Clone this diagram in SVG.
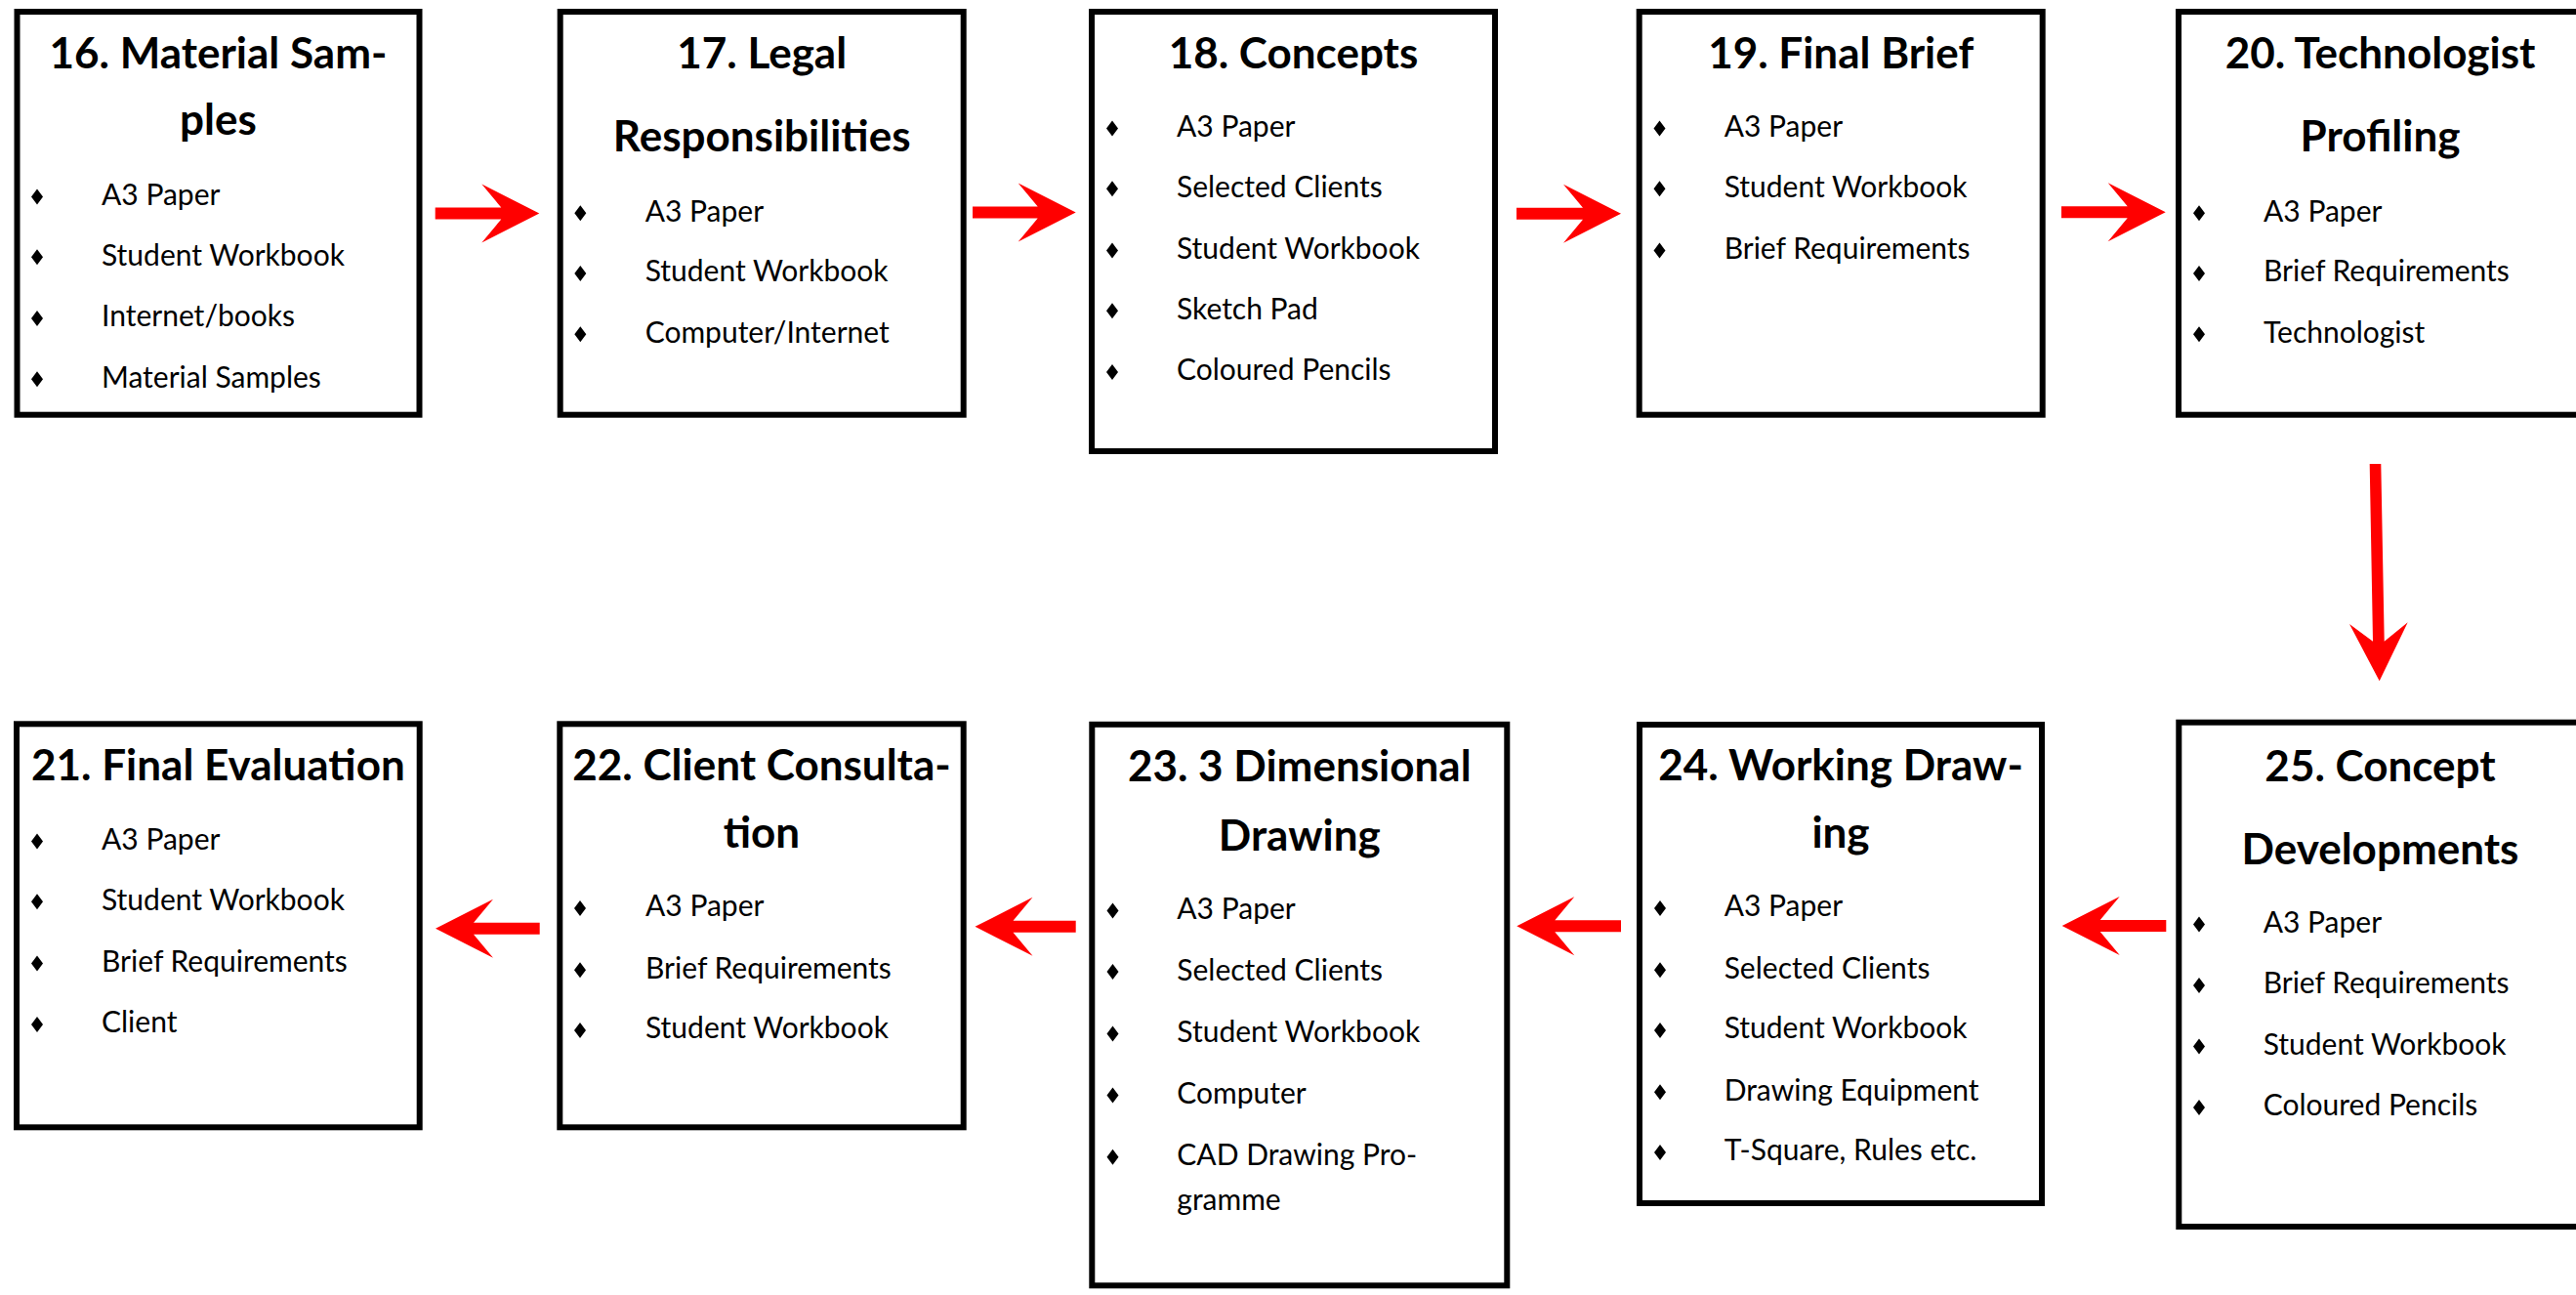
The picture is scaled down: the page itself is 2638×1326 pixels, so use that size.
<svg xmlns="http://www.w3.org/2000/svg" xmlns:xlink="http://www.w3.org/1999/xlink" width="2638" height="1326" viewBox="0 0 2638 1326">
<style>
.box{fill:#fff;stroke:#000;stroke-width:6}
.t{font-family:Lato,"Liberation Sans",sans-serif;font-weight:700;font-size:44px;text-anchor:middle;fill:#000}
.b{font-family:Lato,"Liberation Sans",sans-serif;font-size:30px;fill:#000}
.arr{fill:#f00}
</style>
<defs>
<path id="dia" d="M0,-8 L6,0 L0,8 L-6,0 Z" fill="#000"/>
</defs>
<rect width="2638" height="1326" fill="#fff"/>
<g id="connectors">
<polygon class="arr" points="445.7,212.5 513.3,212.5 493.3,188.5 552.3,218.5 493.3,248.5 513.3,224.5 445.7,224.5"/>
<polygon class="arr" points="996,211.5 1062.7,211.5 1042.7,187.5 1101.7,217.5 1042.7,247.5 1062.7,223.5 996,223.5"/>
<polygon class="arr" points="1553,212.8 1621,212.8 1601,188.8 1660,218.8 1601,248.8 1621,224.8 1553,224.8"/>
<polygon class="arr" points="2111,211.3 2178.7,211.3 2158.7,187.3 2217.7,217.3 2158.7,247.3 2178.7,223.3 2111,223.3"/>
<polygon class="arr" points="2426.7,475 2438.3,475 2441.7,656.7 2465.7,637.3 2436.7,697.3 2406,639 2430,656.7"/>
<polygon class="arr" points="2111.7,948 2170.7,918 2150.7,942 2218.3,942 2218.3,954 2150.7,954 2170.7,978"/>
<polygon class="arr" points="1553.3,948.2 1612.3,918.2 1592.3,942.2 1660,942.2 1660,954.2 1592.3,954.2 1612.3,978.2"/>
<polygon class="arr" points="998.5,948.8 1057.5,918.8 1037.5,942.8 1101.7,942.8 1101.7,954.8 1037.5,954.8 1057.5,978.8"/>
<polygon class="arr" points="446,950.8 505,920.8 485,944.8 552.7,944.8 552.7,956.8 485,956.8 505,980.8"/>
</g>
<g id="n16">
<rect class="box" x="17.5" y="12" width="412" height="412.7"/>
<text class="t" x="223.5" y="70">16. Material Sam-</text>
<text class="t" x="223.5" y="137.5">ples</text>
<use xlink:href="#dia" x="38" y="201.6"/><text class="b" x="104" y="210">A3 Paper</text>
<use xlink:href="#dia" x="38" y="263.3"/><text class="b" x="104" y="271.7">Student Workbook</text>
<use xlink:href="#dia" x="38" y="325.9"/><text class="b" x="104" y="334.3">Internet/books</text>
<use xlink:href="#dia" x="38" y="388.3"/><text class="b" x="104" y="396.7">Material Samples</text>
</g>
<g id="n17">
<rect class="box" x="573.7" y="12" width="413" height="412.7"/>
<text class="t" x="780.2" y="70">17. Legal</text>
<text class="t" x="780.2" y="155">Responsibilities</text>
<use xlink:href="#dia" x="594.3" y="218.3"/><text class="b" x="660.7" y="226.7">A3 Paper</text>
<use xlink:href="#dia" x="594.3" y="279.9"/><text class="b" x="660.7" y="288.3">Student Workbook</text>
<use xlink:href="#dia" x="594.3" y="342.3"/><text class="b" x="660.7" y="350.7">Computer/Internet</text>
</g>
<g id="n18">
<rect class="box" x="1118" y="12" width="413" height="450"/>
<text class="t" x="1324.5" y="70">18. Concepts</text>
<use xlink:href="#dia" x="1139" y="131.6"/><text class="b" x="1205" y="140">A3 Paper</text>
<use xlink:href="#dia" x="1139" y="193.3"/><text class="b" x="1205" y="201.7">Selected Clients</text>
<use xlink:href="#dia" x="1139" y="256.6"/><text class="b" x="1205" y="265">Student Workbook</text>
<use xlink:href="#dia" x="1139" y="318.3"/><text class="b" x="1205" y="326.7">Sketch Pad</text>
<use xlink:href="#dia" x="1139" y="380.9"/><text class="b" x="1205" y="389.3">Coloured Pencils</text>
</g>
<g id="n19">
<rect class="box" x="1678.7" y="12" width="413" height="412.7"/>
<text class="t" x="1885.2" y="70">19. Final Brief</text>
<use xlink:href="#dia" x="1699.5" y="131.6"/><text class="b" x="1765.7" y="140">A3 Paper</text>
<use xlink:href="#dia" x="1699.5" y="193.3"/><text class="b" x="1765.7" y="201.7">Student Workbook</text>
<use xlink:href="#dia" x="1699.5" y="256.6"/><text class="b" x="1765.7" y="265">Brief Requirements</text>
</g>
<g id="n20">
<rect class="box" x="2231" y="12" width="413" height="412.7"/>
<text class="t" x="2437.5" y="70">20. Technologist</text>
<text class="t" x="2437.5" y="155">Profiling</text>
<use xlink:href="#dia" x="2252" y="218.3"/><text class="b" x="2318" y="226.7">A3 Paper</text>
<use xlink:href="#dia" x="2252" y="279.9"/><text class="b" x="2318" y="288.3">Brief Requirements</text>
<use xlink:href="#dia" x="2252" y="342.3"/><text class="b" x="2318" y="350.7">Technologist</text>
</g>
<g id="n21">
<rect class="box" x="17" y="741.3" width="412.7" height="413"/>
<text class="t" x="223.4" y="799.3">21. Final Evaluation</text>
<use xlink:href="#dia" x="38" y="861.6"/><text class="b" x="104" y="870">A3 Paper</text>
<use xlink:href="#dia" x="38" y="923.3"/><text class="b" x="104" y="931.7">Student Workbook</text>
<use xlink:href="#dia" x="38" y="986.6"/><text class="b" x="104" y="995">Brief Requirements</text>
<use xlink:href="#dia" x="38" y="1048.9"/><text class="b" x="104" y="1057.3">Client</text>
</g>
<g id="n22">
<rect class="box" x="573.3" y="741.3" width="413.4" height="413"/>
<text class="t" x="780" y="799.3">22. Client Consulta-</text>
<text class="t" x="780" y="868.3">tion</text>
<use xlink:href="#dia" x="594" y="929.9"/><text class="b" x="661" y="938.3">A3 Paper</text>
<use xlink:href="#dia" x="594" y="993.3"/><text class="b" x="661" y="1001.7">Brief Requirements</text>
<use xlink:href="#dia" x="594" y="1054.9"/><text class="b" x="661" y="1063.3">Student Workbook</text>
</g>
<g id="n23">
<rect class="box" x="1118.3" y="741.8" width="425" height="574.5"/>
<text class="t" x="1330.8" y="800">23. 3 Dimensional</text>
<text class="t" x="1330.8" y="871">Drawing</text>
<use xlink:href="#dia" x="1139.5" y="932.4"/><text class="b" x="1205.3" y="940.8">A3 Paper</text>
<use xlink:href="#dia" x="1139.5" y="995.1"/><text class="b" x="1205.3" y="1003.5">Selected Clients</text>
<use xlink:href="#dia" x="1139.5" y="1058.4"/><text class="b" x="1205.3" y="1066.8">Student Workbook</text>
<use xlink:href="#dia" x="1139.5" y="1121.4"/><text class="b" x="1205.3" y="1129.8">Computer</text>
<use xlink:href="#dia" x="1139.5" y="1184.7"/><text class="b" x="1205.3" y="1193.1">CAD Drawing Pro-</text>
<text class="b" x="1205.3" y="1238.6">gramme</text>
</g>
<g id="n24">
<rect class="box" x="1679" y="742" width="412" height="490"/>
<text class="t" x="1885" y="799.3">24. Working Draw-</text>
<text class="t" x="1885" y="868.3">ing</text>
<use xlink:href="#dia" x="1700" y="929.9"/><text class="b" x="1765.7" y="938.3">A3 Paper</text>
<use xlink:href="#dia" x="1700" y="993.3"/><text class="b" x="1765.7" y="1001.7">Selected Clients</text>
<use xlink:href="#dia" x="1700" y="1054.9"/><text class="b" x="1765.7" y="1063.3">Student Workbook</text>
<use xlink:href="#dia" x="1700" y="1118.3"/><text class="b" x="1765.7" y="1126.7">Drawing Equipment</text>
<use xlink:href="#dia" x="1700" y="1179.9"/><text class="b" x="1765.7" y="1188.3">T-Square, Rules etc.</text>
</g>
<g id="n25">
<rect class="box" x="2231.3" y="739.7" width="413" height="516.3"/>
<text class="t" x="2437.5" y="800">25. Concept</text>
<text class="t" x="2437.5" y="885">Developments</text>
<use xlink:href="#dia" x="2252" y="946.6"/><text class="b" x="2317.7" y="955">A3 Paper</text>
<use xlink:href="#dia" x="2252" y="1008.9"/><text class="b" x="2317.7" y="1017.3">Brief Requirements</text>
<use xlink:href="#dia" x="2252" y="1071.6"/><text class="b" x="2317.7" y="1080">Student Workbook</text>
<use xlink:href="#dia" x="2252" y="1133.9"/><text class="b" x="2317.7" y="1142.3">Coloured Pencils</text>
</g>
</svg>
